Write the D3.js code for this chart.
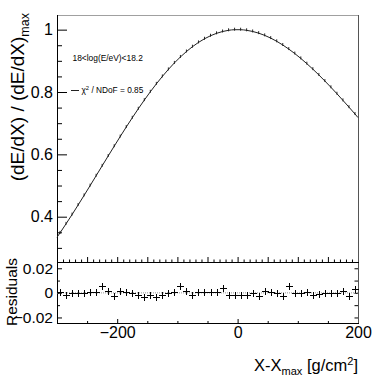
<!DOCTYPE html>
<html><head><meta charset="utf-8">
<script src="https://cdn.jsdelivr.net/npm/d3@7"></script>
<style>
html,body{margin:0;padding:0;background:#fff;}
svg{display:block;font-family:"Liberation Sans",Arial,Helvetica,sans-serif;}
</style></head>
<body><svg id="c" width="379" height="376"></svg>
<script>
// ---- data ----
const binCenters = [-295,-285,-275,-265,-255,-245,-235,-225,-215,-205,-195,-185,-175,-165,-155,-145,-135,-125,-115,-105,
  -95,-85,-75,-65,-55,-45,-35,-25,-15,-5,5,15,25,35,45,55,65,75,85,95,105,115,125,135,145,155,165,175,185,195];
const profile = [0.3480,0.3770,0.4068,0.4373,0.4683,0.4997,0.5314,0.5631,0.5947,0.6261,
  0.6571,0.6875,0.7172,0.7461,0.7739,0.8006,0.8260,0.8499,0.8724,0.8933,
  0.9124,0.9298,0.9453,0.9590,0.9707,0.9804,0.9882,0.9940,0.9979,0.9998,
  0.9998,0.9979,0.9942,0.9888,0.9816,0.9729,0.9626,0.9508,0.9377,0.9233,
  0.9077,0.8909,0.8733,0.8547,0.8352,0.8151,0.7944,0.7731,0.7514,0.7294];
const fitEdgeX = [-300, 200];
const fitEdgeY = [0.334, 0.718];
const residuals = [0.0010,-0.0014,0.0000,-0.0002,-0.0003,0.0005,0.0008,0.0057,0.0016,-0.0027,
  0.0016,0.0008,-0.0005,-0.0019,-0.0033,-0.0014,-0.0033,-0.0016,0.0000,0.0005,
  0.0057,0.0016,-0.0019,0.0005,0.0011,0.0008,0.0011,0.0038,-0.0019,-0.0014,
  -0.0019,-0.0019,0.0000,-0.0025,0.0014,0.0005,-0.0002,-0.0027,0.0054,0.0000,
  -0.0005,0.0005,-0.0014,-0.0008,-0.0003,-0.0003,0.0000,0.0016,-0.0027,0.0035];
const topYTicks = [0.4,0.6,0.8,1];
const topYMinor = [0.3,0.35,0.45,0.5,0.55,0.65,0.7,0.75,0.85,0.9,0.95];
const resYTicks = [-0.02,0,0.02];
const resYMinor = [-0.01,0.01];
const xLabelTicks = [-200,0,200];
const xMinorBottom = [-300,-250,-150,-100,-50,50,100,150];
const labelRange = "18<log(E/eV)<18.2";
const labelChi = "0.85";

// ---- layout ----
const L = 57, R = 358, T = 15, MID = 262, B = 323;
const svg = d3.select("#c");
const x = d3.scaleLinear([-300,200],[L,R]);
const yTop = d3.scaleLinear([0.2547,1.047],[MID,T]);
const yRes = d3.scaleLinear([-0.0245,0.0251],[B,MID]);

function clean(g){ g.select(".domain").remove(); g.selectAll("line").attr("stroke","#000"); return g; }

// top panel y axis
svg.append("g").attr("transform",`translate(${L},0)`)
  .call(d3.axisLeft(yTop).tickValues(topYTicks).tickSizeInner(-10).tickSizeOuter(0).tickPadding(4)
    .tickFormat(d => d===1 ? "1" : d3.format(".1f")(d)))
  .call(clean).selectAll("text").attr("font-size",16).attr("fill","#000").attr("font-family",null);
svg.append("g").attr("transform",`translate(${L},0)`)
  .call(d3.axisLeft(yTop).tickValues(topYMinor).tickSizeInner(-5).tickSizeOuter(0).tickFormat(""))
  .call(clean);

// top panel x axis ticks (no labels)
const topMinor = d3.range(-300,201,10).filter(v => v % 50 !== 0);
const topMajor = d3.range(-300,201,50);
svg.append("g").attr("transform",`translate(0,${MID})`)
  .call(d3.axisBottom(x).tickValues(topMajor).tickSizeInner(-5).tickSizeOuter(0).tickFormat(""))
  .call(clean);
svg.append("g").attr("transform",`translate(0,${MID})`)
  .call(d3.axisBottom(x).tickValues(topMinor).tickSizeInner(-2.5).tickSizeOuter(0).tickFormat(""))
  .call(clean);

// residual y axis
svg.append("g").attr("transform",`translate(${L},0)`)
  .call(d3.axisLeft(yRes).tickValues(resYTicks).tickSizeInner(-5).tickSizeOuter(0).tickPadding(4)
    .tickFormat(d => d===0 ? "0" : d3.format(".2f")(d)))
  .call(clean).selectAll("text").attr("font-size",15.5).attr("fill","#000").attr("font-family",null);
svg.append("g").attr("transform",`translate(${L},0)`)
  .call(d3.axisLeft(yRes).tickValues(resYMinor).tickSizeInner(-3).tickSizeOuter(0).tickFormat(""))
  .call(clean);
svg.append("g").attr("transform",`translate(${R},0)`)
  .call(d3.axisRight(yRes).tickValues(resYTicks.concat(resYMinor)).tickSizeInner(-3.5).tickSizeOuter(0).tickFormat(""))
  .call(clean);

// residual x axis
svg.append("g").attr("transform",`translate(0,${B})`)
  .call(d3.axisBottom(x).tickValues(xLabelTicks).tickSizeInner(-4).tickSizeOuter(0).tickPadding(4))
  .call(clean).selectAll("text").attr("font-size",16).attr("fill","#000").attr("font-family",null);
svg.append("g").attr("transform",`translate(0,${B})`)
  .call(d3.axisBottom(x).tickValues(xMinorBottom).tickSizeInner(-2).tickSizeOuter(0).tickFormat(""))
  .call(clean);

// frames
const fr = svg.append("g").attr("shape-rendering","crispEdges");
fr.append("line").attr("x1",L).attr("x2",R).attr("y1",T+0.5).attr("y2",T+0.5).attr("stroke","#a0a0a0");
fr.append("line").attr("x1",R+0.5).attr("x2",R+0.5).attr("y1",T).attr("y2",B).attr("stroke","#555");
fr.append("line").attr("x1",L+0.5).attr("x2",L+0.5).attr("y1",T).attr("y2",B+0.5).attr("stroke","#000");
fr.append("line").attr("x1",L).attr("x2",R+1).attr("y1",MID+0.5).attr("y2",MID+0.5).attr("stroke","#000");
fr.append("line").attr("x1",L).attr("x2",R+1).attr("y1",B+0.5).attr("y2",B+0.5).attr("stroke","#000");

// zero line
svg.append("line").attr("x1",L).attr("x2",R).attr("y1",yRes(0)).attr("y2",yRes(0))
  .attr("stroke","#999").attr("stroke-dasharray","1,1");

// fit curve
const curvePts = [[fitEdgeX[0],fitEdgeY[0]]].concat(binCenters.map((c,i)=>[c,profile[i]])).concat([[fitEdgeX[1],fitEdgeY[1]]]);
svg.append("path").attr("d", d3.line().x(d=>x(d[0])).y(d=>yTop(d[1])).curve(d3.curveMonotoneX)(curvePts))
  .attr("fill","none").attr("stroke","#222").attr("stroke-width",1);

// data points (small error bars)
const pts = svg.append("g").attr("stroke","#111").attr("stroke-width",0.9);
binCenters.forEach((c,i)=>{
  const px = x(c), py = yTop(profile[i]);
  pts.append("line").attr("x1",px).attr("x2",px).attr("y1",py-2).attr("y2",py+1);
});

// residual markers
const rm = svg.append("g").attr("stroke","#000").attr("stroke-width",1);
binCenters.forEach((c,i)=>{
  const px = Math.round(x(c))+0.5, py = Math.round(yRes(residuals[i]))+0.5;
  rm.append("line").attr("x1",px-3.5).attr("x2",px+3.5).attr("y1",py).attr("y2",py);
  rm.append("line").attr("x1",px).attr("x2",px).attr("y1",py-3.5).attr("y2",py+3.5);
});

// annotations
svg.append("text").attr("x",72.5).attr("y",60.5).attr("font-size",8.4).text(labelRange);
svg.append("line").attr("x1",71).attr("x2",79).attr("y1",90.5).attr("y2",90.5).attr("stroke","#222");
const chi = svg.append("text").attr("x",81.5).attr("y",93).attr("font-size",8.3);
chi.append("tspan").text("χ");
chi.append("tspan").attr("font-size",5.8).attr("dy",-3.5).text("2");
chi.append("tspan").attr("dy",3.5).text(" / NDoF = " + labelChi);

// axis titles
const yt = svg.append("text").attr("transform","translate(24,13) rotate(-90)").attr("text-anchor","end").attr("font-size",19);
yt.append("tspan").text("(dE/dX) / (dE/dX)");
yt.append("tspan").attr("font-size",12.5).attr("dy",5).text("max");

svg.append("text").attr("transform","translate(17,292) rotate(-90)").attr("text-anchor","middle")
  .attr("font-size",15.5).text("Residuals");

const xt = svg.append("text").attr("x",358).attr("y",371).attr("text-anchor","end").attr("font-size",16.5);
xt.append("tspan").text("X-X");
xt.append("tspan").attr("font-size",11).attr("dy",3.5).text("max");
xt.append("tspan").attr("dy",-3.5).text(" [g/cm");
xt.append("tspan").attr("font-size",11).attr("dy",-6).text("2");
xt.append("tspan").attr("dy",6).text("]");
</script>
</body></html>
